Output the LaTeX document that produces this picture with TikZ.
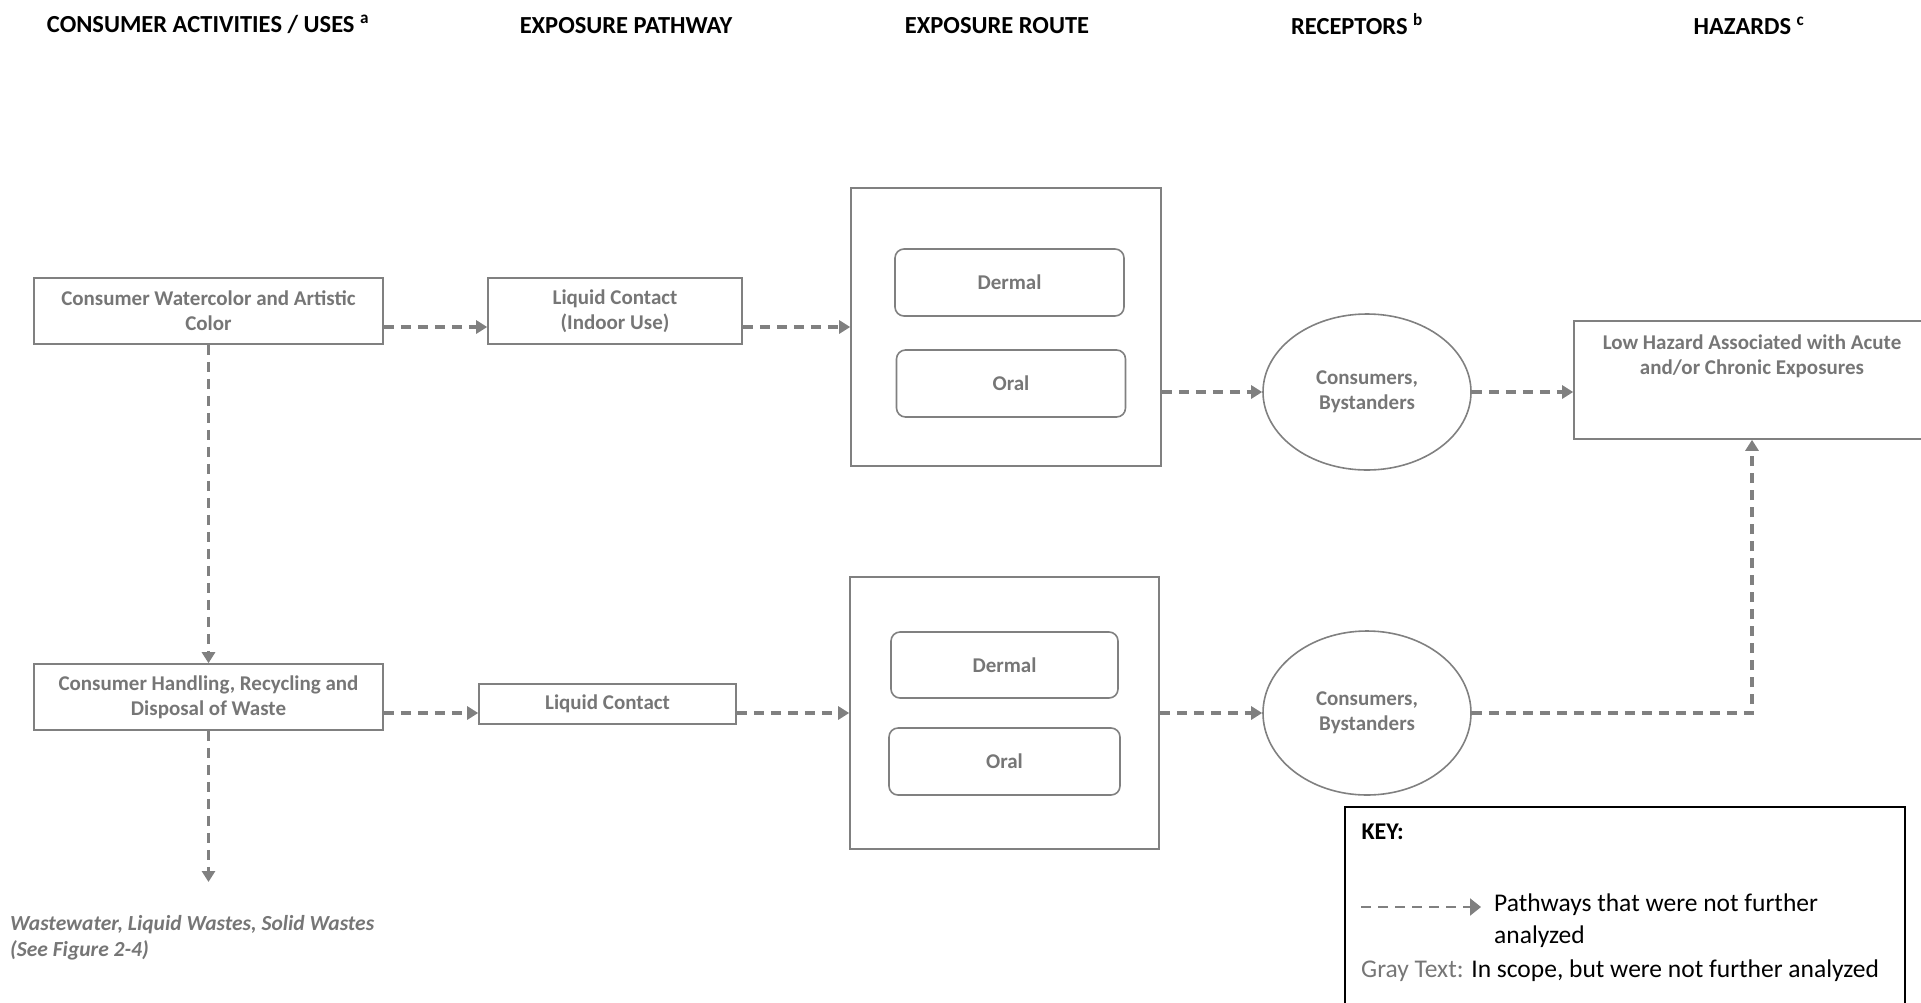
\documentclass[tikz,border=0pt]{standalone}
\usepackage{fontspec}
\setmainfont{Carlito}
\usetikzlibrary{positioning,arrows.meta,shapes.geometric}
\definecolor{linegray}{RGB}{128,128,128}
\definecolor{textgray}{RGB}{118,118,118}

\begin{document}
\begin{tikzpicture}[x=1pt,y=-1pt,
	every node/.style={font=\fontsize{21}{25}\selectfont\bfseries, text=textgray, align=center},
	heading/.style={font=\fontsize{24.5}{28}\selectfont\bfseries, text=black},
	usebox/.style={draw=linegray, line width=1.6pt, minimum width=349pt, minimum height=66pt},
	pathbox/.style={draw=linegray, line width=1.6pt, minimum width=254pt, minimum height=66pt},
	routebox/.style={draw=linegray, line width=1.6pt, minimum width=310pt, minimum height=278pt},
	routeitem/.style={draw=linegray, line width=1.6pt, rounded corners=9pt, minimum width=229pt, minimum height=67pt},
	receptor/.style={draw=linegray, line width=1.6pt, ellipse, minimum width=208pt, minimum height=156pt},
	flow/.style={draw=linegray, line width=3.2pt, dash pattern=on 10pt off 7pt, -{Triangle[length=11pt,width=13pt]}}
	]
	\path[use as bounding box, clip] (0,0) rectangle (1921,1002);
	
	% column headings
	\node[heading] (hUses)   at (208,24)  {CONSUMER ACTIVITIES / USES \textsuperscript{a}};
	\node[heading] (hPath)   at (626,26)  {EXPOSURE PATHWAY};
	\node[heading] (hRoute)  at (997,26)  {EXPOSURE ROUTE};
	\node[heading] (hRecept) at (1357,24) {RECEPTORS \textsuperscript{b}};
	\node[heading] (hHazard) at (1749,26) {HAZARDS \textsuperscript{c}};
	
	% upper row
	\node[usebox] (watercolor) at (208.5,311) {Consumer Watercolor and Artistic\\Color};
	\node[pathbox] (liquidIn) at (615,311) {Liquid Contact\\(Indoor Use)};
	\node[routebox] (routeA) at (1006,327) {};
	\node[routeitem] (dermalA) at (1009.5,282.5) {Dermal};
	\node[routeitem] (oralA) at (1011,383.5) {Oral};
	\node[receptor] (peopleA) at (1367,392) {Consumers,\\Bystanders};
	\node[draw=linegray, line width=1.6pt, minimum width=356pt, minimum height=118pt] (hazard) at (1752,380) {};
	\node[below=11pt of hazard.north] (hazText) {Low Hazard Associated with Acute\\and/or Chronic Exposures};
	
	% lower row
	\node[usebox] (waste) at (208.5,697) {Consumer Handling, Recycling and\\Disposal of Waste};
	\node[pathbox, minimum width=257pt, minimum height=40pt] (liquid) at (607.5,704) {Liquid Contact};
	\node[routebox, minimum width=309pt, minimum height=272pt] (routeB) at (1004.5,713) {};
	\node[routeitem, minimum width=227pt, minimum height=66pt] (dermalB) at (1004.5,665) {Dermal};
	\node[routeitem, minimum width=231pt] (oralB) at (1004.5,761.5) {Oral};
	\node[receptor, minimum height=164pt] (peopleB) at (1367,713) {Consumers,\\Bystanders};
	
	\coordinate (wasteEnd) at (208.5,882);
	\node[anchor=north west, align=left, inner sep=0pt, font=\fontsize{21.5}{26}\selectfont\bfseries\itshape] (wasteText) at (10,915) {Wastewater, Liquid Wastes, Solid Wastes\\(See Figure 2-4)};
	
	% connectors, upper row
	\draw[flow] ([yshift=-16pt]watercolor.east) -- ([yshift=-16pt]liquidIn.west);
	\draw[flow] ([yshift=-16pt]liquidIn.east) -- (routeA.west);
	\draw[flow] (routeA.east |- peopleA.west) -- (peopleA.west);
	\draw[flow] (peopleA.east) -- (peopleA.east -| hazard.west);
	\draw[flow] (watercolor.south) -- (waste.north);% down to waste handling
	
	% connectors, lower row
	\draw[flow] (waste.east |- routeB.west) -- (liquid.west |- routeB.west);
	\draw[flow] (liquid.east |- routeB.west) -- (routeB.west);
	\draw[flow] (routeB.east) -- (peopleB.west);
	\draw[flow] (peopleB.east) -| (hazard.south);
	\draw[flow] (waste.south) -- (wasteEnd);
	
	% key
	\node[draw=black, line width=1.6pt, minimum width=560pt, minimum height=230pt] (key) at (1625,922) {};
	\node[anchor=west, text=black, font=\fontsize{24}{28}\selectfont\bfseries] (keyTitle) at (1358,832) {KEY:};
	\coordinate (keyFrom) at (1361,907);
	\coordinate (keyTo) at (1481,907);
	\draw[flow, line width=2.2pt, -{Triangle[length=11pt,width=17pt]}] (keyFrom) -- (keyTo);
	\node[anchor=north west, align=left, inner sep=0pt, text=black, font=\fontsize{25.5}{32}\selectfont] (keyDash) at (1494,894) {Pathways that were not further\\analyzed};
	\node[anchor=west, inner sep=0pt, text=black, font=\fontsize{25.5}{32}\selectfont] (keyGray) at (1361,971) {\textcolor{textgray}{Gray Text:} In scope, but were not further analyzed};
	
\end{tikzpicture}
\end{document}
